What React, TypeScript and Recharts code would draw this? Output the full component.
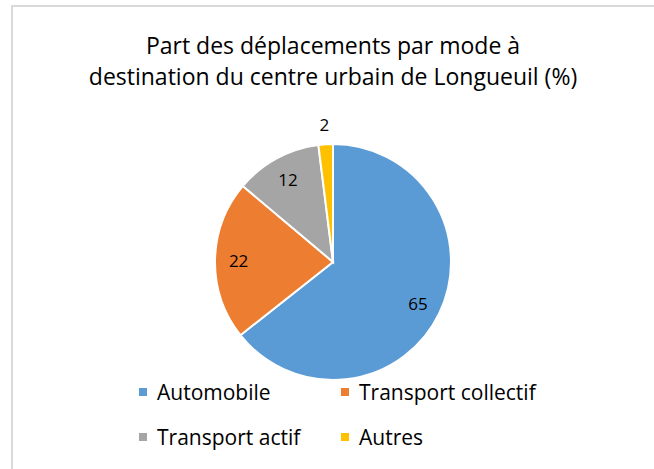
import React from "react";
import { PieChart, Pie, Cell, Legend } from "recharts";

const categories = ["Automobile", "Transport collectif", "Transport actif", "Autres"];
const values = [65, 22, 12, 2];
const colors = ["#5B9BD5", "#ED7D31", "#A5A5A5", "#FFC000"];
const titleLines = ["Part des déplacements par mode à", "destination du centre urbain de Longueuil (%)"];

const data = categories.map((name, i) => ({ name, value: values[i] }));

const FONT = "'Open Sans', 'Liberation Sans', sans-serif";
const RAD = Math.PI / 180;

const renderLabel = (props: any) => {
  const { cx, cy, midAngle, outerRadius, value } = props;
  const r = value >= 5 ? outerRadius * 0.8 : outerRadius + 20;
  const x = cx + r * Math.cos(-midAngle * RAD);
  const y = cy + r * Math.sin(-midAngle * RAD);
  return (
    <text x={x} y={y} textAnchor="middle" dominantBaseline="central" fontFamily={FONT} fontSize={17} fill="#000">
      {value}
    </text>
  );
};

const renderLegend = (props: any) => {
  const payload = [...(props.payload || [])].sort(
    (a: any, b: any) => categories.indexOf(a.value) - categories.indexOf(b.value)
  );
  return (
    <div
      style={{
        display: "grid",
        gridTemplateColumns: "202px 230px",
        rowGap: 18,
        fontFamily: FONT,
        fontSize: 21,
        color: "#000",
      }}
    >
      {payload.map((p: any, i: number) => (
        <div key={i} style={{ display: "flex", alignItems: "center", height: 27 }}>
          <span style={{ width: 8, height: 8, background: p.color, display: "inline-block", marginRight: 10, flexShrink: 0 }} />
          <span style={{ whiteSpace: "nowrap" }}>{p.value}</span>
        </div>
      ))}
    </div>
  );
};

export default function App() {
  return (
    <div style={{ position: "absolute", left: 0, top: 0, width: 654, height: 469, overflow: "hidden", background: "#fff" }}>
      <div
        style={{
          position: "absolute",
          left: 11,
          top: 5,
          width: 700,
          height: 500,
          border: "2px solid #D9D9D9",
          boxSizing: "border-box",
        }}
      />
      <div
        style={{
          position: "absolute",
          left: 0,
          top: 30,
          width: 666,
          textAlign: "center",
          fontFamily: FONT,
          fontSize: 23,
          lineHeight: "31px",
          color: "#000",
        }}
      >
        {titleLines.map((t, i) => (
          <div key={i} style={{ whiteSpace: "nowrap" }}>{t}</div>
        ))}
      </div>
      <div style={{ position: "absolute", left: 0, top: 0 }}>
        <PieChart width={654} height={469} margin={{ top: 0, right: 0, bottom: 0, left: 0 }}>
          <Pie
            data={data}
            dataKey="value"
            nameKey="name"
            cx={333}
            cy={262}
            outerRadius={118}
            startAngle={90}
            endAngle={-270}
            stroke="#fff"
            strokeWidth={2}
            label={renderLabel}
            labelLine={false}
            isAnimationActive={false}
          >
            {data.map((d, i) => (
              <Cell key={d.name} fill={colors[i]} />
            ))}
          </Pie>
          <Legend
            content={renderLegend}
            wrapperStyle={{ position: "absolute", left: 139, top: 378, width: 440 }}
          />
        </PieChart>
      </div>
    </div>
  );
}
